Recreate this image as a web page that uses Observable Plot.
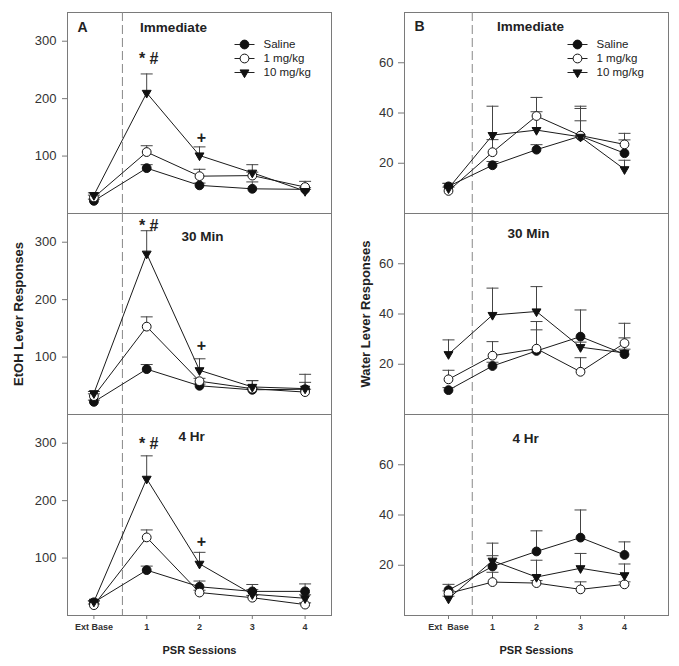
<!DOCTYPE html>
<html>
<head>
<meta charset="utf-8">
<script src="https://cdn.jsdelivr.net/npm/d3@7"></script>
<script src="https://cdn.jsdelivr.net/npm/@observablehq/plot@0.6"></script>
<style>
  html, body { margin: 0; padding: 0; background: #fff; }
  #chart { position: relative; width: 679px; height: 666px; background: #fff; overflow: hidden; }
</style>
</head>
<body>
<div id="chart"></div>
<script>
// ---------- data ----------
const sessionIndex = [0, 1, 2, 3, 4];
const sessionLabelsEtoh = ["Ext Base", "1", "2", "3", "4"];
const sessionLabelsWater = ["Ext\u00a0 Base", "1", "2", "3", "4"];
const groups = ["Saline", "1 mg/kg", "10 mg/kg"];
const delays = ["Immediate", "30 Min", "4 Hr"];
const etohTicks = [100, 200, 300];
const waterTicks = [20, 40, 60];

// EtOH lever responses (mean, SEM)
const etohImmSaline = [22, 79, 49, 43, 42];
const etohImmSalineSem = [3, 6, 4, 12, 3];
const etohImm1 = [28, 107, 65, 66, 46];
const etohImm1Sem = [4, 11, 12, 6, 10];
const etohImm10 = [32, 210, 101, 71, 39];
const etohImm10Sem = [4, 33, 15, 14, 3];

const etoh30Saline = [22, 79, 50, 43, 44];
const etoh30SalineSem = [3, 8, 3, 3, 12];
const etoh30One = [32, 153, 58, 45, 39];
const etoh30OneSem = [4, 17, 5, 14, 5];
const etoh30Ten = [37, 280, 77, 48, 45];
const etoh30TenSem = [3, 40, 20, 11, 25];

const etoh4Saline = [23, 79, 50, 42, 42];
const etoh4SalineSem = [2, 7, 10, 12, 13];
const etoh4One = [18, 136, 40, 31, 19];
const etoh4OneSem = [2, 13, 4, 4, 3];
const etoh4Ten = [24, 238, 90, 37, 30];
const etoh4TenSem = [2, 40, 20, 8, 6];

// Water lever responses (mean, SEM)
const waterImmSaline = [10.8, 19.2, 25.4, 30.8, 24];
const waterImmSalineSem = [1.2, 1.5, 2, 11.9, 5.3];
const waterImm1 = [9, 24.4, 38.8, 31, 27.5];
const waterImm1Sem = [1.5, 5, 7.4, 10.8, 4.4];
const waterImm10 = [10, 31.2, 33.2, 30.5, 17.6];
const waterImm10Sem = [2, 11.5, 7.3, 6.4, 3.6];

const water30Saline = [9.7, 19.3, 25.3, 31, 24];
const water30SalineSem = [1, 1.5, 8.4, 10.6, 2];
const water30One = [14, 23.4, 26.2, 17, 28.4];
const water30OneSem = [3.6, 5.6, 10.8, 5.6, 7.9];
const water30Ten = [24, 39.6, 41, 26.8, 24.5];
const water30TenSem = [5.7, 10.7, 9.9, 2, 6];

const water4Saline = [10.1, 19.5, 25.5, 31, 24.1];
const water4SalineSem = [2.3, 4.3, 8.2, 11, 5.2];
const water4One = [8.8, 13.3, 12.9, 10.4, 12.4];
const water4OneSem = [1, 3.9, 1, 3, 1];
const water4Ten = [6.7, 21.8, 15.3, 18.8, 16];
const water4TenSem = [1, 7, 6.7, 5.9, 4.5];

// significance annotations (EtOH panels)
const markSessions = [1, 2];
const markLabels = ["* #", "+"];
const etohMarkHeights = [[270, 132], [329, 120], [299, 129]];

// extinction / PSR divider position (session axis)
const dividerAt = 0.54;

// ---------- drawing ----------
const FONT = '"Liberation Sans", Arial, Helvetica, sans-serif';
const PW = 264, PH = 201, TOP = 12;

const capSymbol = {
  draw(ctx, size) { const w = Math.sqrt(size / Math.PI); ctx.moveTo(-w, 0); ctx.lineTo(w, 0); }
};

const groupStyle = {
  "Saline": {symbol: "circle", r: 4.4, fill: "#111", stroke: "#111"},
  "1 mg/kg": {symbol: "circle", r: 4.4, fill: "#fff", stroke: "#111"},
  "10 mg/kg": {symbol: "triangle", r: 3.3, fill: "#111", stroke: "#111", rotate: 180}
};

function records(means, sems) {
  const out = [];
  groups.forEach((g, gi) => sessionIndex.forEach(i =>
    out.push({group: g, session: i, mean: means[gi][i], sem: sems[gi][i]})));
  return out;
}

const columns = [
  {
    frameLeft: 67, svgLeft: 0, width: 339,
    xDomain: [-0.5, 4.5], yDomain: [0, 350], yTicks: etohTicks,
    tickLabels: sessionLabelsEtoh, yLabel: "EtOH Lever Responses", yLabelDx: -49,
    letter: "A", legendDx: -87, tickSize: 5, tickPadding: 6,
    titleOffsets: [[-26, 15], [3, 23], [-8, 22]],
    means: [[etohImmSaline, etohImm1, etohImm10], [etoh30Saline, etoh30One, etoh30Ten], [etoh4Saline, etoh4One, etoh4Ten]],
    sems: [[etohImmSalineSem, etohImm1Sem, etohImm10Sem], [etoh30SalineSem, etoh30OneSem, etoh30TenSem], [etoh4SalineSem, etoh4OneSem, etoh4TenSem]],
    markHeights: etohMarkHeights
  },
  {
    frameLeft: 404, svgLeft: 340, width: 336,
    xDomain: [-1, 5], yDomain: [0, 80], yTicks: waterTicks,
    tickLabels: sessionLabelsWater, yLabel: "Water Lever Responses", yLabelDx: -39,
    letter: "B", legendDx: -91, tickSize: 6, tickPadding: 5,
    titleOffsets: [[-6, 14], [-8, 20], [-11, 24]],
    means: [[waterImmSaline, waterImm1, waterImm10], [water30Saline, water30One, water30Ten], [water4Saline, water4One, water4Ten]],
    sems: [[waterImmSalineSem, waterImm1Sem, waterImm10Sem], [water30SalineSem, water30OneSem, water30TenSem], [water4SalineSem, water4OneSem, water4TenSem]],
    markHeights: null
  }
];

const chart = document.getElementById("chart");

columns.forEach(col => delays.forEach((delay, row) => {
  const isBottom = row === 2;
  const data = records(col.means[row], col.sems[row]);
  const marginLeft = col.frameLeft - col.svgLeft;
  const marginBottom = isBottom ? 50 : 0;

  const marks = [
    Plot.frame({stroke: "#7a7a7a", strokeWidth: 1}),
    Plot.ruleX([dividerAt], {stroke: "#888", strokeDasharray: "9,4", strokeWidth: 1}),
    Plot.line(data, {x: "session", y: "mean", z: "group", stroke: "#1a1a1a", strokeWidth: 1}),
    Plot.ruleX(data, {x: "session", y1: "mean", y2: d => d.mean + d.sem, stroke: "#444", strokeWidth: 1}),
    Plot.dot(data, {x: "session", y: d => d.mean + d.sem, symbol: capSymbol, r: 6, stroke: "#444", fill: "none", strokeWidth: 1}),
    ...groups.map(g => Plot.dot(data.filter(d => d.group === g), {
      x: "session", y: "mean", ...groupStyle[g], strokeWidth: 1
    })),
    Plot.axisY({ticks: col.yTicks, tickSize: col.tickSize, tickPadding: col.tickPadding,
      fontSize: 13, fill: "#333", stroke: "#777", label: null}),
    Plot.text([delay], {frameAnchor: "top", dx: col.titleOffsets[row][0], dy: col.titleOffsets[row][1],
      text: d => d, textAnchor: "middle", lineAnchor: "middle", fontSize: 13.5, fontWeight: "bold", fill: "#222"})
  ];

  if (row === 0) {
    marks.push(Plot.text([col.letter], {frameAnchor: "top-left", dx: 15, dy: col.titleOffsets[0][1],
      text: d => d, textAnchor: "middle", lineAnchor: "middle", fontSize: 14, fontWeight: "bold", fill: "#222"}));
    groups.forEach((g, i) => {
      const dy = 32 + 14 * i;
      marks.push(
        Plot.dot([g], {frameAnchor: "top-right", dx: col.legendDx, dy, symbol: capSymbol, r: 10, stroke: "#222", fill: "none", strokeWidth: 1}),
        Plot.dot([g], {frameAnchor: "top-right", dx: col.legendDx, dy, ...groupStyle[g], strokeWidth: 1}),
        Plot.text([g], {frameAnchor: "top-right", dx: col.legendDx + 19, dy, text: d => d,
          textAnchor: "start", lineAnchor: "middle", fontSize: 11.5, fill: "#222"})
      );
    });
  }

  if (row === 1) {
    marks.push(Plot.text([col.yLabel], {frameAnchor: "left", dx: col.yLabelDx, rotate: -90, text: d => d,
      textAnchor: "middle", lineAnchor: "middle", fontSize: 13, fontWeight: "bold", fill: "#222"}));
  }

  if (col.markHeights) {
    const ann = markSessions.map((s, i) => ({session: s, value: col.markHeights[row][i], label: markLabels[i]}));
    marks.push(Plot.text(ann, {x: "session", y: "value", text: "label", dx: 2,
      textAnchor: "middle", lineAnchor: "middle", fontSize: 16, fontWeight: "bold", fill: "#222"}));
  }

  if (isBottom) {
    marks.push(
      Plot.axisX({ticks: sessionIndex, tickFormat: i => col.tickLabels[i], tickSize: 4, tickPadding: 4,
        fontSize: 9, fontWeight: "bold", fill: "#333", stroke: "#777", label: null}),
      Plot.text(["PSR Sessions"], {frameAnchor: "bottom", dy: 35, text: d => d,
        textAnchor: "middle", lineAnchor: "middle", fontSize: 11, fontWeight: "bold", fill: "#222"})
    );
  }

  const svg = Plot.plot({
    width: col.width,
    height: PH + marginBottom,
    marginLeft,
    marginRight: col.width - marginLeft - PW,
    marginTop: 0,
    marginBottom,
    x: isBottom ? {domain: col.xDomain} : {domain: col.xDomain, axis: null},
    y: {domain: col.yDomain},
    style: {background: "transparent", overflow: "visible", fontFamily: FONT},
    marks
  });
  svg.style.position = "absolute";
  svg.style.left = col.svgLeft + "px";
  svg.style.top = (TOP + PH * row) + "px";
  svg.style.maxWidth = "none";
  chart.append(svg);
}));
</script>
</body>
</html>
